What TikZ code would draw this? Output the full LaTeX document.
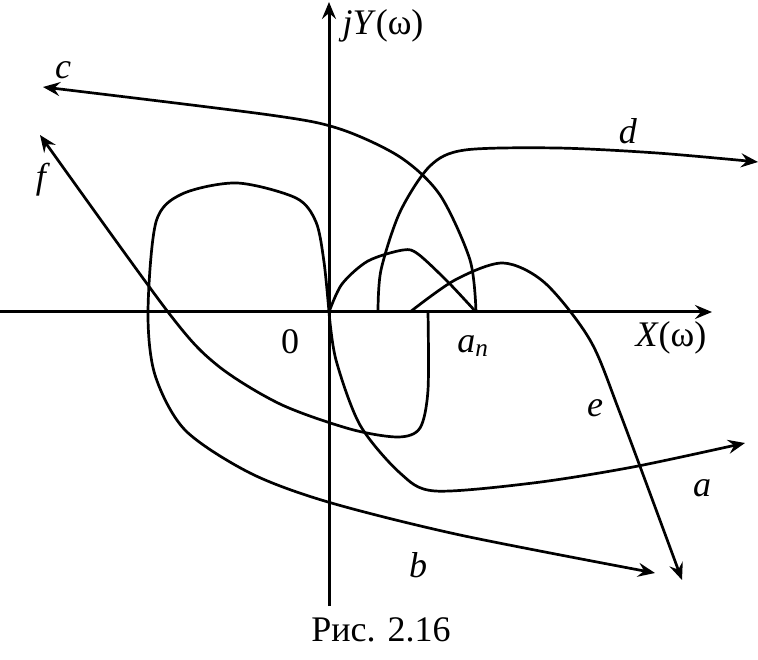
\documentclass[tikz,border=0pt]{standalone}
\usepackage{fontspec}
\setmainfont{Liberation Serif}
\usetikzlibrary{arrows.meta}

\begin{document}
\begin{tikzpicture}[x=1pt,y=-1pt,
    axis/.style={black,line width=3pt,-{Stealth[length=17pt,width=14pt,inset=6pt]}},
    curve/.style={black,line width=2.7pt},
    arr/.style={-{Stealth[length=17pt,width=14pt,inset=6pt]}},
    lbl/.style={inner sep=0pt,font=\fontsize{36}{40}\selectfont}]
  \useasboundingbox (0,0) rectangle (758,660);

  \coordinate (O) at (329,312);
  \coordinate (an) at (476,312);
  \coordinate (xl) at (0,312);
  \coordinate (xr) at (712,312);
  \coordinate (yb) at (329,606);
  \coordinate (yt) at (329,2);

  \draw[axis] (xl) -- (xr);
  \draw[axis] (yb) -- (yt);

  % a
  \draw[curve] plot[smooth] coordinates {(O) (342,284) (368,261) (403,250) (418,254) (448,282) (an)};
  \draw[curve,arr] plot[smooth] coordinates {(O) (336,360) (360,425) (400,473) (435,491) (533,483) (633,467) (745,443)};
  % b
  \draw[curve,arr] plot[smooth] coordinates {(O) (324,262) (316,222) (296,198) (237,183) (182,194) (156,222) (148,312) (155,375) (185,430) (250,473) (328,502) (460,535) (655,573)};
  % c
  \draw[curve,arr] plot[smooth] coordinates {(an) (470,260) (440,195) (400,157) (340,129) (270,115) (43,87)};
  % d
  \draw[curve,arr] plot[smooth] coordinates {(378,312) (381,270) (400,212) (430,166) (465,150) (557,148) (657,153) (758,162)};
  % e
  \draw[curve,arr] plot[smooth] coordinates {(410,312) (455,280) (503,263) (545,283) (590,340) (620,413) (682,580)};
  % f
  \draw[curve,arr] plot[smooth] coordinates {(428,312) (428,390) (420,428) (398,437) (350,429) (280,404) (217,365) (168,312) (40,135)};

  \node[lbl] (lc) at (63,70) {\textit{c}};
  \node[lbl] (lf) at (43,180) {\textit{f}};
  \node[lbl] (ld) at (628,131) {\textit{d}};
  \node[lbl] (le) at (595,408) {\textit{e}};
  \node[lbl] (la) at (702,488) {\textit{a}};
  \node[lbl] (lb) at (418,565) {\textit{b}};
  \node[lbl] (lzero) at (290,342) {0};
  \node[lbl] (lan) at (473,346) {\textit{a}\textsubscript{\textit{n}}};
  \node[lbl] (lx) at (671,338) {\textit{X}(ω)};
  \node[lbl] (ly) at (383,26) {\textit{jY}(ω)};
  \node[lbl] (cap) at (381,630) {Рис. 2.16};
\end{tikzpicture}
\end{document}
